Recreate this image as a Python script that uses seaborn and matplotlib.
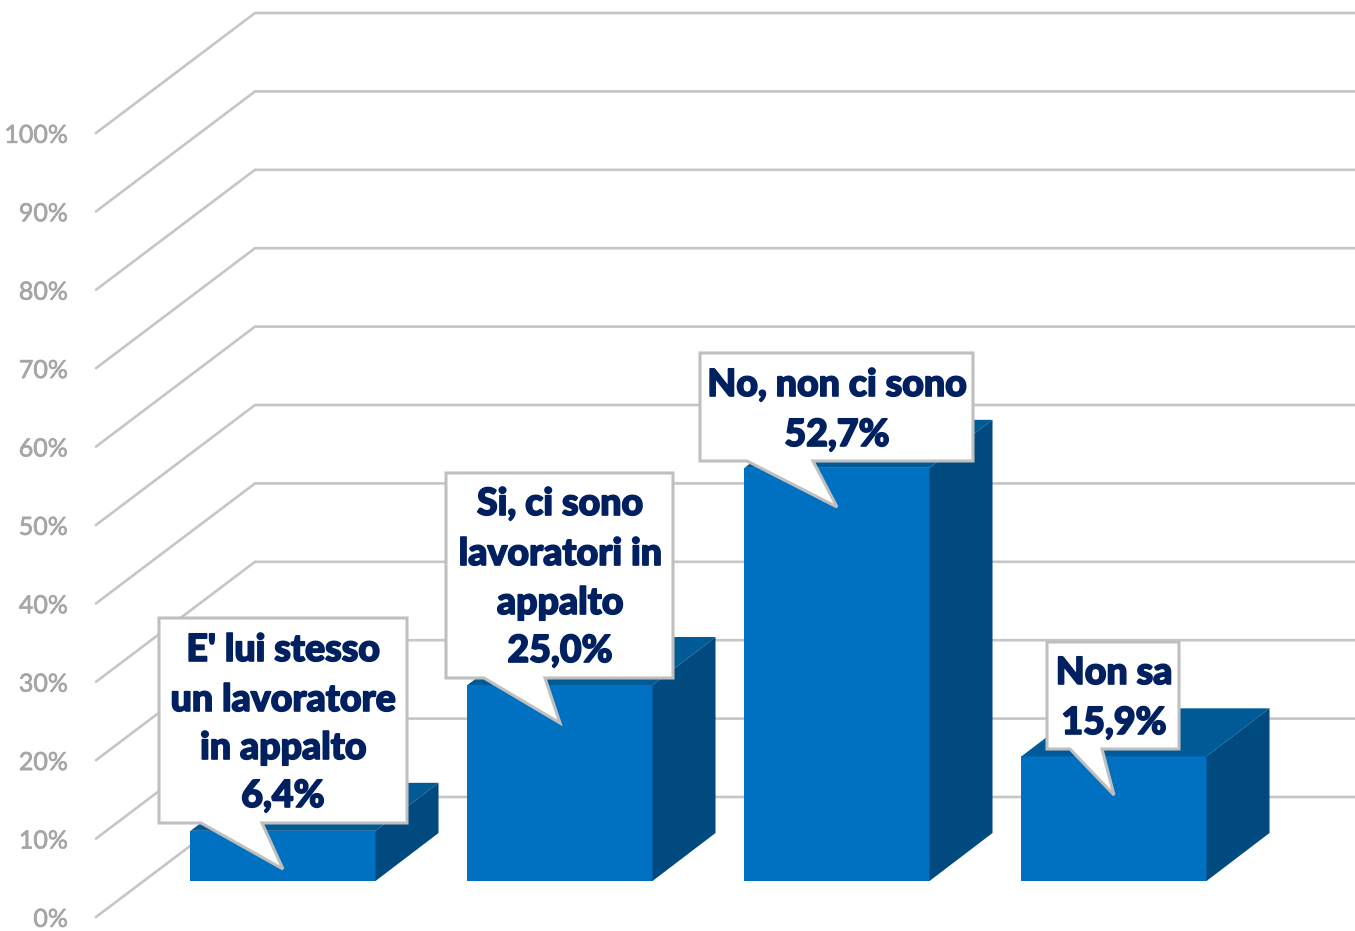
import matplotlib
matplotlib.use("Agg")
import matplotlib.pyplot as plt
import matplotlib.patheffects as pe
import pandas as pd
import seaborn as sns
from matplotlib.patches import Polygon
from matplotlib.transforms import Affine2D

# valori
categories = ["E' lui stesso\nun lavoratore\nin appalto", "Si, ci sono\nlavoratori in\nappalto",
              "No, non ci sono", "Non sa"]
values = [6.4, 25.0, 52.7, 15.9]
value_labels = ["6,4%", "25,0%", "52,7%", "15,9%"]
levels = list(range(0, 101, 10))
level_labels = [f"{v}%" for v in levels]

W, H = 1355, 931
FONT = ["Lato", "Liberation Sans", "DejaVu Sans"]
NAVY = "#002060"
GRID = "#c6c6c6"
FRONT, TOP, SIDE = "#0070c0", "#005a96", "#004a7f"

sns.set_theme(style="white")
plt.rcParams["font.family"] = FONT

fig = plt.figure(figsize=(W / 100, H / 100), dpi=100)
ax = fig.add_axes([0, 0, 1, 1])

df = pd.DataFrame({"cat": categories, "val": values})
sns.barplot(data=df, x="cat", y="val", color=FRONT, saturation=1, width=0.668, ax=ax, zorder=3,
            linewidth=0)

# scala: 277 px per categoria, 7.84 px per punto percentuale
ax.set_xlim(-283 / 277, (W - 283) / 277)
ax.set_ylim((881 - H) / 7.84, 881 / 7.84)
ax.axis("off")

# pavimento e pareti 3D
front_x, back_x = (96 - 283) / 277, (255 - 283) / 277
front_dy, back_dy = -36 / 7.84, 84 / 7.84
right_x = ax.get_xlim()[1]
for v, lab in zip(levels, level_labels):
    ax.plot([front_x, back_x, right_x], [v + front_dy, v + back_dy, v + back_dy],
            color=GRID, lw=1.9, zorder=1, solid_joinstyle="miter")
    ax.text((68 - 283) / 277, v + front_dy - 0.3, lab, ha="right", va="center",
            fontsize=18, color="#a6a6a6",
            path_effects=[pe.withStroke(linewidth=0.5, foreground="#a6a6a6")])

# facce laterali e superiori delle barre
half = 0.668 / 2
dx, dy = 63 / 277, 48 / 7.84
for i, v in enumerate(values):
    ax.add_patch(Polygon([(i - half, v), (i + half, v), (i + half + dx, v + dy), (i - half + dx, v + dy)],
                         fc=TOP, ec="none", zorder=3))
    ax.add_patch(Polygon([(i + half, 0), (i + half + dx, dy), (i + half + dx, v + dy), (i + half, v)],
                         fc=SIDE, ec="none", zorder=3))

# fumetti in pixel dell'immagine
px = Affine2D().scale(1 / W, -1 / H).translate(0, 1) + fig.transFigure
callouts = [
    (159, 618, 407, 823, 201, 262, 283, 869),
    (446, 473, 673, 678, 484, 545, 560, 723),
    (700, 353, 973, 461, 747, 813, 837, 507),
    (1047, 642, 1179, 749, 1070, 1102, 1114, 795),
]
text_y = [[648, 698, 746, 794], [502, 552, 601, 649], [383, 433], [671, 721]]
text_x = [283, 560, 837, 1114]

for i, (l, t, r, b, t0, t1, tx, ty) in enumerate(callouts):
    ax.add_patch(Polygon([(l, t), (r, t), (r, b), (t1, b), (tx, ty), (t0, b), (l, b)], closed=True,
                         fc="white", ec="#bfbfbf", lw=2.2, joinstyle="miter", transform=px, zorder=5))
    lines = categories[i].split("\n") + [value_labels[i]]
    for line, y in zip(lines, text_y[i]):
        ax.text(text_x[i], y + 2, line, transform=px, ha="center", va="center",
                fontsize=27, fontweight="black", color=NAVY, zorder=6,
                path_effects=[pe.withStroke(linewidth=1.2, foreground=NAVY)])

fig.savefig("out.png", dpi=100, facecolor="white")
